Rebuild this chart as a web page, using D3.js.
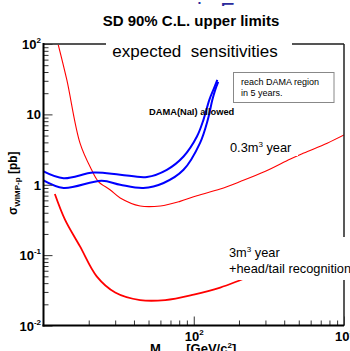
<!DOCTYPE html>
<html>
<head>
<meta charset="utf-8">
<script src="https://cdn.jsdelivr.net/npm/d3@7"></script>
<style>
  body { margin: 0; background: #fff; }
  svg { display: block; font-family: "Liberation Sans", Arial, sans-serif; }
</style>
</head>
<body>
<script>
// curve data: WIMP mass [GeV/c^2] vs cross section [pb]
const massRedThin = [12.5, 14.3, 17.5, 20.9, 23.2, 27.7, 32.4, 44, 60, 81, 105, 150, 204, 300, 440, 540, 773, 1000];
const sigmaRedThin = [100, 30.8, 3.9, 1.63, 1.11, 0.85, 0.65, 0.50, 0.50, 0.58, 0.70, 0.87, 1.11, 1.55, 2.32, 2.82, 3.9, 5.1];

const massRedThick = [11.9, 13.9, 17.5, 22.6, 30, 44, 64.6, 100, 150, 209, 300, 500, 700, 918, 1000];
const sigmaRedThick = [0.74, 0.32, 0.133, 0.050, 0.0295, 0.023, 0.023, 0.0275, 0.0346, 0.045, 0.06, 0.095, 0.13, 0.166, 0.177];

const massBlueUp = [10, 13.6, 21.5, 32.4, 48.8, 66.2, 85.5, 105, 116, 127, 135, 143.5];
const sigmaBlueUp = [1.55, 1.24, 1.49, 1.39, 1.29, 1.63, 2.52, 4.84, 8.36, 16.1, 22.3, 30.8];

const massBlueLow = [10, 13.6, 24.4, 32.4, 46.2, 63.0, 85.5, 110, 124, 133, 139, 145.5];
const sigmaBlueLow = [1.15, 0.90, 1.14, 1.0, 0.90, 1.06, 1.63, 3.9, 8.36, 16.1, 22.3, 28.9];

const yTickVals = [0.01, 0.1, 1, 10, 100];
const yTickBase = ["10", "10", "1", "10", "10"];
const yTickExp = ["-2", "-1", "", "", "2"];
const xTickVals = [100, 1000];
const xTickExp = ["2", "3"];

const WIDTH = 350;
const HEIGHT = 351;
const LEFT = 43.5, RIGHT = 344, TOP = 44, BOTTOM = 325.5;

let svg = d3.select('body').append('svg')
  .attr('width', WIDTH)
  .attr('height', HEIGHT);

let xScale = d3.scaleLog().domain([10, 1000]).range([LEFT, RIGHT]);
let yScale = d3.scaleLog().domain([0.01, 100]).range([BOTTOM, TOP]);

// blue banner mostly hidden behind the title's white box
svg.append('text')
  .attr('x', 197).attr('y', 18)
  .attr('font-size', 22).attr('fill', '#2b2b9c')
  .text('in Europe');
svg.append('rect')
  .attr('x', 95).attr('y', 6).attr('width', 200).attr('height', 26)
  .attr('fill', '#fff');

svg.append('text')
  .attr('x', 191).attr('y', 26)
  .attr('text-anchor', 'middle')
  .attr('font-size', 15).attr('font-weight', 'bold')
  .text('SD 90% C.L. upper limits');

svg.append('clipPath').attr('id', 'plotclip')
  .append('rect')
  .attr('x', LEFT).attr('y', TOP)
  .attr('width', RIGHT - LEFT).attr('height', BOTTOM - TOP);

let plot = svg.append('g').attr('clip-path', 'url(#plotclip)');

function curve(mass, sigma, color, width) {
  let pts = mass.map((m, i) => [m, sigma[i]]);
  let line = d3.line()
    .x(d => xScale(d[0]))
    .y(d => yScale(d[1]))
    .curve(d3.curveCatmullRom.alpha(0.5));
  plot.append('path')
    .attr('d', line(pts))
    .attr('fill', 'none')
    .attr('stroke', color)
    .attr('stroke-width', width);
}

curve(massRedThin, sigmaRedThin, '#ff0000', 1.1);
curve(massRedThick, sigmaRedThick, '#ff0000', 1.8);
curve(massBlueUp, sigmaBlueUp, '#0000ff', 2);
curve(massBlueLow, sigmaBlueLow, '#0000ff', 2);

// frame top and right
svg.append('line')
  .attr('x1', LEFT).attr('x2', RIGHT).attr('y1', TOP).attr('y2', TOP)
  .attr('stroke', '#555').attr('stroke-width', 2);
svg.append('line')
  .attr('x1', RIGHT).attr('x2', RIGHT).attr('y1', TOP).attr('y2', BOTTOM)
  .attr('stroke', '#222').attr('stroke-width', 1.5);

// axes (ticks inward)
let yMinor = [];
[0.01, 0.1, 1, 10].forEach(d => { for (let k = 2; k < 10; k++) yMinor.push(d * k); });
let xMinor = [];
[10, 100].forEach(d => { for (let k = 2; k < 10; k++) xMinor.push(d * k); });

let yAxisG = svg.append('g').attr('transform', `translate(${LEFT},0)`);
yAxisG.call(d3.axisRight(yScale).tickValues(yMinor).tickSize(5).tickFormat(''));
yAxisG.append('g').call(d3.axisRight(yScale).tickValues(yTickVals).tickSize(9).tickFormat(''));
yAxisG.selectAll('.domain').remove();
yAxisG.selectAll('line').attr('stroke', '#333').attr('stroke-width', 1);

let xAxisG = svg.append('g').attr('transform', `translate(0,${BOTTOM})`);
xAxisG.call(d3.axisTop(xScale).tickValues(xMinor).tickSize(5).tickFormat(''));
xAxisG.append('g').call(d3.axisTop(xScale).tickValues(xTickVals).tickSize(9).tickFormat(''));
xAxisG.selectAll('.domain').remove();
xAxisG.selectAll('line').attr('stroke', '#333').attr('stroke-width', 1);

svg.append('line')
  .attr('x1', LEFT).attr('x2', LEFT).attr('y1', TOP - 1).attr('y2', BOTTOM + 1)
  .attr('stroke', '#000').attr('stroke-width', 2);
svg.append('line')
  .attr('x1', LEFT - 1).attr('x2', RIGHT).attr('y1', BOTTOM).attr('y2', BOTTOM)
  .attr('stroke', '#000').attr('stroke-width', 2);

// tick labels
yTickVals.forEach((v, i) => {
  let t = svg.append('text')
    .attr('x', 41).attr('y', yScale(v) + 5)
    .attr('text-anchor', 'end')
    .attr('font-size', 13).attr('font-weight', 'bold');
  t.append('tspan').text(yTickBase[i]);
  if (yTickExp[i]) {
    t.append('tspan').attr('dy', -6).attr('font-size', 8).text(yTickExp[i]);
  }
});

xTickVals.forEach((v, i) => {
  let t = svg.append('text')
    .attr('x', xScale(v) - 9).attr('y', 341)
    .attr('font-size', 13).attr('font-weight', 'bold');
  t.append('tspan').text('10');
  t.append('tspan').attr('dy', -6).attr('font-size', 8).text(xTickExp[i]);
});

// axis titles
let yt = svg.append('text')
  .attr('transform', 'translate(17,215) rotate(-90)')
  .attr('font-size', 12).attr('font-weight', 'bold');
yt.append('tspan').text('σ');
yt.append('tspan').attr('dy', 3).attr('font-size', 8).text('WIMP-p');
yt.append('tspan').attr('dy', -3).text(' [pb]');

let xt = svg.append('text')
  .attr('x', 150).attr('y', 352.5)
  .attr('font-size', 13).attr('font-weight', 'bold');
xt.append('tspan').text('M');
xt.append('tspan').attr('dy', 3).attr('font-size', 8).attr('fill', '#777').text('WIMP');
xt.append('tspan').attr('dy', -3).text(' [GeV/c');
xt.append('tspan').attr('dy', -5).attr('font-size', 8).text('2');
xt.append('tspan').attr('dy', 5).text(']');

// annotation boxes
svg.append('rect')
  .attr('x', 106).attr('y', 38).attr('width', 186).attr('height', 28)
  .attr('fill', '#fff');
svg.append('text')
  .attr('x', 195).attr('y', 57)
  .attr('text-anchor', 'middle')
  .attr('font-size', 17)
  .attr('xml:space', 'preserve')
  .text('expected  sensitivities');

svg.append('rect')
  .attr('x', 233.5).attr('y', 72.5).attr('width', 100.5).attr('height', 30)
  .attr('fill', '#fff').attr('stroke', '#888').attr('stroke-width', 1);
svg.append('text').attr('x', 241).attr('y', 85).attr('font-size', 9).text('reach DAMA region');
svg.append('text').attr('x', 241).attr('y', 96).attr('font-size', 9).text('in 5 years.');

svg.append('text')
  .attr('x', 149).attr('y', 115)
  .attr('font-size', 9.3).attr('font-weight', 'bold')
  .text('DAMA(NaI) allowed');

svg.append('rect')
  .attr('x', 226).attr('y', 138).attr('width', 72).attr('height', 18)
  .attr('fill', '#fff');
let t1 = svg.append('text').attr('x', 230).attr('y', 152).attr('font-size', 12.8);
t1.append('tspan').text('0.3m');
t1.append('tspan').attr('dy', -5).attr('font-size', 8).text('3');
t1.append('tspan').attr('dy', 5).text(' year');

svg.append('rect')
  .attr('x', 226).attr('y', 237).attr('width', 130).attr('height', 43)
  .attr('fill', '#fff');
let t2 = svg.append('text').attr('x', 229).attr('y', 257).attr('font-size', 12.8);
t2.append('tspan').text('3m');
t2.append('tspan').attr('dy', -5).attr('font-size', 8).text('3');
t2.append('tspan').attr('dy', 5).text(' year');
svg.append('text').attr('x', 229).attr('y', 273).attr('font-size', 12.8)
  .text('+head/tail recognition');
</script>
</body>
</html>
